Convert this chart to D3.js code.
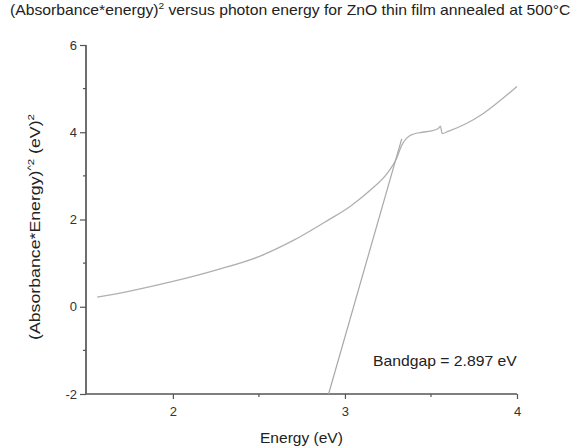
<!DOCTYPE html>
<html>
<head>
<meta charset="utf-8">
<script src="https://cdn.jsdelivr.net/npm/d3@7"></script>
<style>
  body { margin: 0; background: #fff; }
  svg { font-family: "Liberation Sans", Arial, sans-serif; }
</style>
</head>
<body>
<div id="wrapper"></div>
<script>
// data
const energy = [1.56, 1.75, 2.0, 2.25, 2.5, 2.7, 2.9, 3.03, 3.15, 3.25, 3.3, 3.33, 3.36, 3.4, 3.45, 3.5, 3.54, 3.555, 3.565, 3.6, 3.7, 3.8, 3.9, 4.0]
const absSq = [0.22, 0.36, 0.58, 0.84, 1.15, 1.52, 1.98, 2.3, 2.68, 3.08, 3.4, 3.7, 3.87, 3.96, 4.0, 4.03, 4.08, 4.14, 3.97, 4.02, 4.19, 4.42, 4.72, 5.05]
const tangentE = [2.905, 3.33]
const tangentV = [-2, 3.85]
const xTicks = [2, 3, 4]
const xMinor = [2.5, 3.5]
const yTicks = [-2, 0, 2, 4, 6]
const yMinor = [-1, 1, 3, 5]

const dimensions = {
  width: 574,
  height: 448,
  margin: { top: 45, right: 57, bottom: 54, left: 86 },
}
dimensions.boundedWidth = dimensions.width - dimensions.margin.left - dimensions.margin.right
dimensions.boundedHeight = dimensions.height - dimensions.margin.top - dimensions.margin.bottom

const svg = d3.select("#wrapper").append("svg")
  .attr("width", dimensions.width)
  .attr("height", dimensions.height)

const bounds = svg.append("g")
  .attr("transform", `translate(${dimensions.margin.left},${dimensions.margin.top})`)

const xScale = d3.scaleLinear()
  .domain([1.495, 4])
  .range([0, dimensions.boundedWidth])

const yScale = d3.scaleLinear()
  .domain([-2, 6])
  .range([dimensions.boundedHeight, 0])

const axisColor = "#555"
const textColor = "#222"

// the original text is stretched sideways, so squeeze each label to its measured width
function stretchTo(sel, width) {
  const w = sel.node().getComputedTextLength()
  sel.attr("transform", (sel.attr("transform") || "") + ` scale(${width / w},1)`)
}

// axes
const xAxis = bounds.append("g")
  .attr("transform", `translate(0,${dimensions.boundedHeight})`)
  .call(d3.axisBottom(xScale).tickValues(xTicks).tickSize(5).tickPadding(8).tickFormat(d => String(d)))
xAxis.append("g").selectAll("line").data(xMinor).join("line")
  .attr("x1", d => xScale(d)).attr("x2", d => xScale(d))
  .attr("y1", 0).attr("y2", 3)

const yAxis = bounds.append("g")
  .call(d3.axisLeft(yScale).tickValues(yTicks).tickSize(6).tickPadding(3).tickFormat(d => String(d)))
yAxis.append("g").selectAll("line").data(yMinor).join("line")
  .attr("y1", d => yScale(d)).attr("y2", d => yScale(d))
  .attr("x1", 0).attr("x2", -3)

xAxis.select(".domain").attr("d", `M0,0H${dimensions.boundedWidth}`)
yAxis.select(".domain").attr("d", `M0,${dimensions.boundedHeight}V0`)
bounds.selectAll(".domain").attr("stroke", axisColor).attr("stroke-width", 1.7)
bounds.selectAll("line").attr("stroke", axisColor).attr("stroke-width", 1.2)
bounds.selectAll(".tick text").attr("fill", "#333").style("font-size", "13px")
  .style("font-family", "'Liberation Sans', Arial, sans-serif")

// curve
const line = d3.line()
  .x((d, i) => xScale(energy[i]))
  .y(d => yScale(d))
  .curve(d3.curveMonotoneX)

bounds.append("path")
  .datum(absSq)
  .attr("d", line)
  .attr("fill", "none")
  .attr("stroke", "#b0b0b0")
  .attr("stroke-width", 1.3)

// tangent line
bounds.append("path")
  .datum(tangentV)
  .attr("d", d3.line().x((d, i) => xScale(tangentE[i])).y(d => yScale(d)))
  .attr("fill", "none")
  .attr("stroke", "#a8a8a8")
  .attr("stroke-width", 1.2)

// bandgap label
const bandgap = svg.append("text")
  .attr("transform", "translate(373,366)")
  .style("font-size", "14px")
  .attr("fill", textColor)
  .text("Bandgap = 2.897 eV")
stretchTo(bandgap, 144)

// title
const title = svg.append("text")
  .attr("transform", "translate(10,15)")
  .style("font-size", "14px")
  .attr("fill", textColor)
title.append("tspan").text("(Absorbance*energy)")
title.append("tspan").attr("dy", -6).style("font-size", "9px").text("2")
title.append("tspan").attr("dy", 6).text(" versus photon energy for ZnO thin film annealed at 500°C")
stretchTo(title, 561)

// x label
const xLabel = svg.append("text")
  .attr("transform", "translate(260,443)")
  .style("font-size", "14px")
  .attr("fill", textColor)
  .text("Energy (eV)")
stretchTo(xLabel, 83)

// y label
const yLabel = svg.append("text")
  .attr("transform", "translate(40,340) rotate(-90)")
  .style("font-size", "14px")
  .attr("fill", textColor)
yLabel.append("tspan").text("(Absorbance*Energy)")
yLabel.append("tspan").attr("dy", -6).style("font-size", "9px").text("^2")
yLabel.append("tspan").attr("dy", 6).text(" (eV)")
yLabel.append("tspan").attr("dy", -6).style("font-size", "9px").text("2")
stretchTo(yLabel, 226)
</script>
</body>
</html>
